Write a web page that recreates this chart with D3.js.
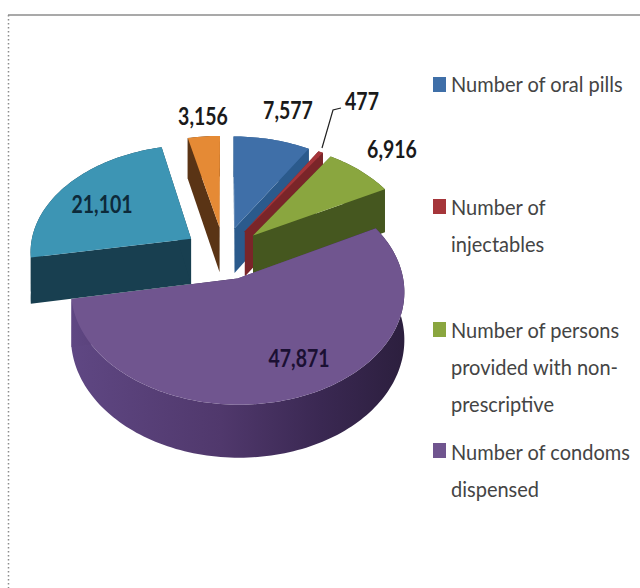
<!DOCTYPE html>
<html>
<head>
<meta charset="utf-8">
<style>
html,body{margin:0;padding:0;background:#fff}
svg{display:block}
</style>
<script src="https://cdn.jsdelivr.net/npm/d3@7/dist/d3.min.js"></script>
</head>
<body>
<svg id="chart" width="640" height="588"></svg>
<script>
// Family-planning services delivered, by method
const values = [7577, 477, 6916, 47871, 21101, 3156];
const valueLabels = ["7,577","477","6,916","47,871","21,101","3,156"];
const topColors = ["#3f6fa8","#a5353a","#8aa63f","#70558f","#3d95b4","#e58a35"];
const wallColors = ["#2b5a8c","#7a2529","#45571f","url(#purpleWall)","#183f50","#5a3415"];
const legendLines = [["Number of oral pills"],["Number of","injectables"],["Number of persons","provided with non-","prescriptive"],["Number of condoms","dispensed"]];

// Projection settings for the tilted pie
const cx = 224, cy = 253, radius = 161.5, tilt = 0.66, depth = 46, explode = 40, eye = 1500;

const svg = d3.select("#chart");
const defs = svg.append("defs");
const grad = defs.append("linearGradient").attr("id","purpleWall");
[[0,"#5f4783"],[0.45,"#50386c"],[0.75,"#3a2852"],[1,"#2c1f3e"]].forEach(([o,c]) =>
  grad.append("stop").attr("offset",o).attr("stop-color",c));

// Frame: solid along the top, dotted down the left
svg.append("line").attr("x1",8).attr("x2",640).attr("y1",15).attr("y2",15).attr("stroke","#8c8c8c").attr("stroke-width",1.5);
svg.append("line").attr("x1",8.5).attr("x2",8.5).attr("y1",15).attr("y2",588).attr("stroke","#8c8c8c").attr("stroke-width",1.5).attr("stroke-dasharray","1.5 2.5");

const slices = d3.pie().sort(null).startAngle(0).endAngle(2*Math.PI)(values);

// Ground-plane point to screen, with mild perspective toward the viewer
function project(px, py, drop) {
  const s = eye / (eye - py);
  return [cx + px * s, cy + (py * tilt + drop) * s];
}
const polar = (a, r) => [Math.sin(a) * r, -Math.cos(a) * r];
const line = d3.line();

function sliceGeometry(d) {
  const mid = (d.startAngle + d.endAngle) / 2;
  const [ox, oy] = polar(mid, explode);
  const n = Math.max(4, Math.ceil((d.endAngle - d.startAngle) * 40));
  const angles = d3.range(n + 1).map(i => d.startAngle + (d.endAngle - d.startAngle) * i / n);
  const rim = drop => angles.map(a => { const [x, y] = polar(a, radius); return project(ox + x, oy + y, drop); });
  return { apex: drop => project(ox, oy, drop), rim };
}

const order = [0, 1, 2, 5, 3, 4];
order.forEach(i => {
  const g = sliceGeometry(slices[i]);
  const top = g.rim(0), bottom = g.rim(depth);
  const a0 = g.apex(0), a1 = g.apex(depth);
  const group = svg.append("g");
  const wall = wallColors[i];
  // Outer wall
  group.append("path").attr("d", line(top.concat(bottom.slice().reverse())) + "Z").attr("fill", wall);
  // Two cut faces
  group.append("path").attr("d", line([a0, top[0], bottom[0], a1]) + "Z").attr("fill", wall);
  group.append("path").attr("d", line([a0, top[top.length-1], bottom[bottom.length-1], a1]) + "Z").attr("fill", wall);
  // Top face
  group.append("path").attr("d", line([a0].concat(top)) + "Z").attr("fill", topColors[i]);
});

// Leader line for the smallest slice
svg.append("path").attr("d", line([[341,108],[333,110],[322,148]])).attr("fill","none").attr("stroke","#222").attr("stroke-width",1.2);

// Value labels
const labelSpots = [[288,119],[362,110],[392,158],[299,367],[102,213],[203,125]];
const labelInk = ["#1a1a1a","#1a1a1a","#1a1a1a","#1b1033","#0d2a3a","#1a1a1a"];
valueLabels.forEach((t, i) => {
  svg.append("text")
    .attr("transform", `translate(${labelSpots[i][0]},${labelSpots[i][1]}) scale(0.78,1)`)
    .attr("text-anchor","middle")
    .attr("font-family","Lato, 'Liberation Sans', sans-serif")
    .attr("font-weight",700).attr("font-size",25)
    .attr("fill",labelInk[i]).text(t);
});

// Legend
const legendBoxes = [77,199,322,443];
const legendBaselines = [[92],[215,252],[338,375,412],[460,497]];
legendLines.forEach((lines, i) => {
  svg.append("rect").attr("x",433).attr("y",legendBoxes[i]).attr("width",13).attr("height",15).attr("fill",topColors[i]);
  lines.forEach((t, j) => {
    svg.append("text")
      .attr("transform", `translate(451,${legendBaselines[i][j]}) scale(0.91,1)`)
      .attr("font-family","Lato, 'Liberation Sans', sans-serif")
      .attr("font-size",22).attr("fill","#444").text(t);
  });
});
</script>
</body>
</html>
